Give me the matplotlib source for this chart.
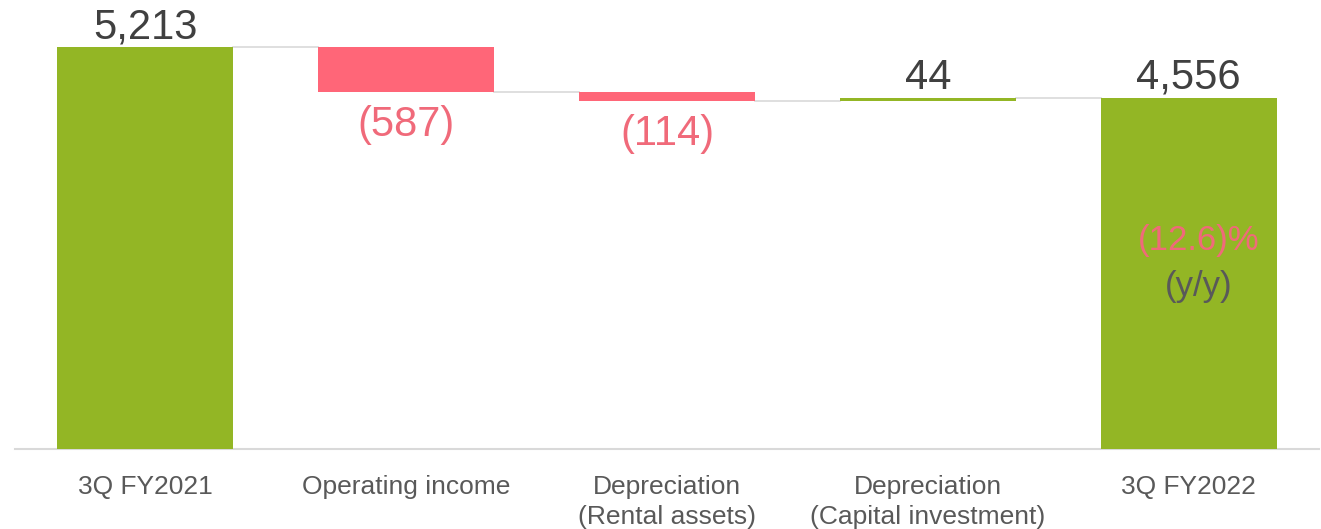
import matplotlib
matplotlib.use("Agg")
import matplotlib.pyplot as plt

plt.rcParams['font.family'] = ['Liberation Sans', 'DejaVu Sans']

# data
categories = ['3Q FY2021', 'Operating income', 'Depreciation\n(Rental assets)',
              'Depreciation\n(Capital investment)', '3Q FY2022']
start_value = 5213
changes = [-587, -114, 44]
end_value = 4556
labels = ['5,213', '(587)', '(114)', '44', '4,556']
yoy_label = '(12.6)%'

green = '#93B625'
red = '#FF6678'
red_text = '#F06A7A'
dark = '#404040'
grey_text = '#595959'
line_grey = '#D9D9D9'

fig = plt.figure(figsize=(13.21, 5.29), dpi=100)
ax = fig.add_axes([15 / 1321, 80 / 529, 1304 / 1321, 449 / 529])

width = 0.675
x = list(range(len(categories)))

# bottoms / heights for waterfall
bottoms = [0]
heights = [start_value]
colors = [green]
level = start_value
for c in changes:
    if c < 0:
        bottoms.append(level + c)
        heights.append(-c)
        colors.append(red)
    else:
        bottoms.append(level)
        heights.append(c)
        colors.append(green)
    level += c
bottoms.append(0)
heights.append(end_value)
colors.append(green)

ax.bar(x, heights, width=width, bottom=bottoms, color=colors, zorder=3)

# connector lines
levels = [start_value]
lv = start_value
for c in changes:
    lv += c
    levels.append(lv)
for i in range(len(categories) - 1):
    ax.plot([x[i] + width / 2, x[i + 1] - width / 2], [levels[i], levels[i]],
            color=line_grey, lw=1.2, zorder=2)

# value labels
for i in range(len(categories)):
    top = bottoms[i] + heights[i]
    if i in (1, 2):
        ax.annotate(labels[i], (x[i], bottoms[i]), xytext=(0, -9), textcoords='offset points',
                    ha='center', va='top', fontsize=30, color=red_text)
    else:
        ax.annotate(labels[i], (x[i], top), xytext=(0, 0), textcoords='offset points',
                    ha='center', va='bottom', fontsize=30, color=dark)

ax.text(x[-1] + 0.04, 2700, yoy_label, ha='center', va='center', fontsize=25, color=red_text)
ax.text(x[-1] + 0.04, 2110, '(y/y)', ha='center', va='center', fontsize=25, color=grey_text)

ax.set_xlim(-0.5, 4.5)
ax.set_ylim(0, 5823)
ax.set_xticks(x)
ax.set_xticklabels(categories, fontsize=19, color=grey_text, linespacing=1.3)
ax.tick_params(axis='x', length=0, pad=19)
ax.set_yticks([])
for s in ['top', 'right', 'left']:
    ax.spines[s].set_visible(False)
ax.spines['bottom'].set_color(line_grey)
ax.spines['bottom'].set_linewidth(1.5)
ax.set_clip_on(False)

fig.savefig('out.png', dpi=100)
